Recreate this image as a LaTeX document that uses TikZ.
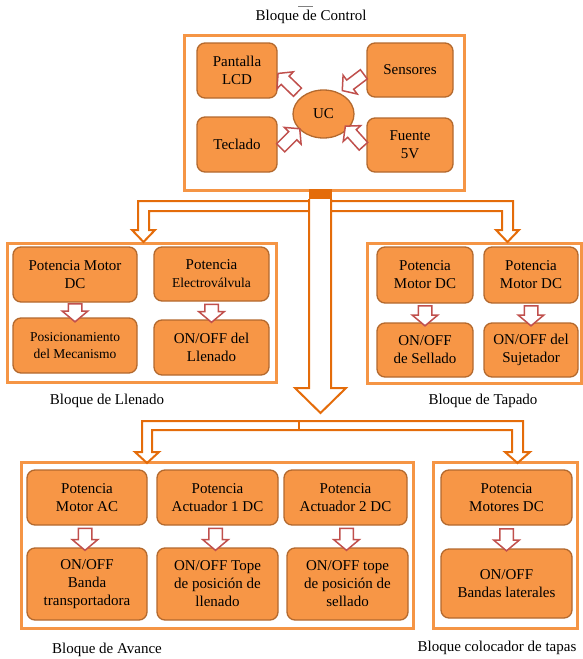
\documentclass[tikz,border=0pt]{standalone}
\usepackage{fontspec}
\setmainfont{Liberation Serif}
\usetikzlibrary{shapes.geometric,shapes.arrows,calc}
\definecolor{boxfill}{HTML}{F79646}
\definecolor{boxline}{HTML}{B3692E}
\definecolor{frameor}{HTML}{F59545}
\definecolor{connor}{HTML}{E46C0A}
\definecolor{arrred}{HTML}{C0504D}
\begin{document}
\begin{tikzpicture}[x=1pt,y=1pt,
  box/.style={draw=boxline, line width=1.3pt, fill=boxfill, rounded corners=8pt, align=center,
    inner sep=1pt, font=\fontsize{15}{18}\selectfont},
  smallbox/.style={box, font=\fontsize{13.5}{17}\selectfont},
  frame/.style={draw=frameor, line width=3pt},
  conn/.style={draw=connor, line width=2pt, line join=miter},
  harrow/.style={single arrow, draw=arrred, line width=1.5pt, fill=white, text height=0pt, text depth=0pt,
    inner xsep=0pt, inner ysep=6pt, single arrow head extend=6pt, single arrow tip angle=100, minimum height=#1},
  dharrow/.style={harrow=#1, inner ysep=5pt, single arrow head extend=6pt},
  lab/.style={font=\fontsize{15}{18}\selectfont}]
\useasboundingbox (0,0) rectangle (582,-659);

% frames
\draw[frame] (184,-35) rectangle (464,-190);
\draw[frame] (7,-243) rectangle (276,-382);
\draw[frame] (367,-243) rectangle (581,-383);
\draw[frame] (21,-462) rectangle (413,-628);
\draw[frame] (433,-462) rectangle (577,-628);

% labels
\draw[gray, line width=0.6pt] (298,-6) -- (313,-6);
\node[lab] (tctl) at (311,-17) {Bloque de Control};
\node[lab] (tlle) at (107,-401) {Bloque de Llenado};
\node[lab] (ttap) at (483,-401) {Bloque de Tapado};
\node[lab] (tava) at (107,-650) {Bloque de Avance};
\node[lab] (tcol) at (497,-648) {Bloque colocador de tapas};

% control block
\node[box, minimum width=80pt, minimum height=55pt] (lcd) at (237,-70.5) {Pantalla\\LCD};
\node[box, minimum width=80pt, minimum height=55pt] (tec) at (237,-144.5) {Teclado};
\node[box, minimum width=86pt, minimum height=54pt] (sen) at (410,-70) {Sensores};
\node[box, minimum width=86pt, minimum height=54pt] (fue) at (410,-145) {Fuente\\5V};
\node[ellipse, draw=boxline, line width=1.3pt, fill=boxfill, minimum width=61pt, minimum height=48pt,
  inner sep=0pt, font=\fontsize{15}{18}\selectfont] (uc) at (323.5,-114) {UC};

\node[dharrow=27pt, rotate=136] (a1) at (289.5,-84.5) {};
\node[dharrow=27pt, rotate=45] (a2) at (288.5,-140) {};
\node[dharrow=27pt, rotate=217] (a3) at (355,-81) {};
\node[dharrow=27pt, rotate=132] (a4) at (356,-138) {};

% llenado
\node[box, minimum width=124pt, minimum height=55pt] (pm1) at (75,-274.5) {Potencia Motor\\DC};
\node[box, minimum width=115pt, minimum height=54pt] (pel) at (211.5,-274) {Potencia\\{\fontsize{13.5}{17}\selectfont Electroválvula}};
\node[smallbox, minimum width=124pt, minimum height=55pt] (pos) at (75,-345.5) {Posicionamiento\\del Mecanismo};
\node[box, minimum width=115pt, minimum height=55pt] (oll) at (211.5,-347.5) {ON/OFF del\\Llenado};
\node[harrow=18pt, rotate=-90] (b1) at ($(pm1.south)!0.5!(pos.north)$) {};
\node[harrow=18pt, rotate=-90] (b2) at ($(pel.south)!0.5!(oll.north)$) {};

% tapado
\node[box, minimum width=96pt, minimum height=56pt] (pt1) at (425,-275) {Potencia\\Motor DC};
\node[box, minimum width=94pt, minimum height=56pt] (pt2) at (531,-275) {Potencia\\Motor DC};
\node[box, minimum width=96pt, minimum height=54pt] (ose) at (425,-350) {ON/OFF\\de Sellado};
\node[box, minimum width=94pt, minimum height=54pt] (osu) at (531,-350) {ON/OFF del\\Sujetador};
\node[harrow=20pt, rotate=-90] (c1) at ($(pt1.south)!0.5!(ose.north)$) {};
\node[harrow=20pt, rotate=-90] (c2) at ($(pt2.south)!0.5!(osu.north)$) {};

% avance
\node[box, minimum width=120pt, minimum height=55pt] (pac) at (87,-497.5) {Potencia\\Motor AC};
\node[box, minimum width=121pt, minimum height=55pt] (pa1) at (217.5,-497.5) {Potencia\\Actuador 1 DC};
\node[box, minimum width=123pt, minimum height=55pt] (pa2) at (345.5,-497.5) {Potencia\\Actuador 2 DC};
\node[box, minimum width=120pt, minimum height=72pt] (obt) at (87,-584) {ON/OFF\\Banda\\transportadora};
\node[box, minimum width=121pt, minimum height=72pt] (otl) at (217.5,-584) {ON/OFF Tope\\de posición de\\llenado};
\node[box, minimum width=121pt, minimum height=72pt] (ots) at (347.5,-584) {ON/OFF tope\\de posición de\\sellado};
\node[harrow=22pt, rotate=-90] (d1) at ($(pac.south)!0.5!(obt.north)+(-2,0)$) {};
\node[harrow=22pt, rotate=-90] (d2) at ($(pa1.south)!0.5!(otl.north)+(-2,0)$) {};
\node[harrow=22pt, rotate=-90] (d3) at ($(pa2.south)!0.5!(ots.north)$) {};

% colocador
\node[box, minimum width=131pt, minimum height=55pt] (pms) at (506.5,-497.5) {Potencia\\Motores DC};
\node[box, minimum width=131pt, minimum height=69pt] (obl) at (506.5,-583.5) {ON/OFF\\Bandas laterales};
\node[harrow=22pt, rotate=-90] (e1) at ($(pms.south)!0.5!(obl.north)$) {};

% big distribution arrows
\fill[connor] (309,-189) rectangle (332,-199);
\draw[conn] (309,-199) -- (309,-388) -- (295,-388) -- (320.5,-413) -- (346,-388) -- (331,-388) -- (331,-199);
\draw[conn] (309,-201) -- (138,-201) -- (138,-230) -- (132,-230) -- (143.5,-242) -- (155,-230) -- (149,-230) -- (149,-211) -- (309,-211);
\draw[conn] (331,-201) -- (513,-201) -- (513,-230) -- (519,-230) -- (507.5,-242) -- (496,-230) -- (502,-230) -- (502,-211) -- (331,-211);
\draw[conn] (299,-421) -- (142,-421) -- (142,-452) -- (135,-452) -- (147,-463) -- (159,-452) -- (152,-452) -- (152,-430)
  -- (512,-430) -- (512,-452) -- (505,-452) -- (517.5,-463) -- (530,-452) -- (523,-452) -- (523,-421) -- cycle;
\draw[conn, line width=1.5pt] (299,-421) -- (299,-430);
\end{tikzpicture}
\end{document}
